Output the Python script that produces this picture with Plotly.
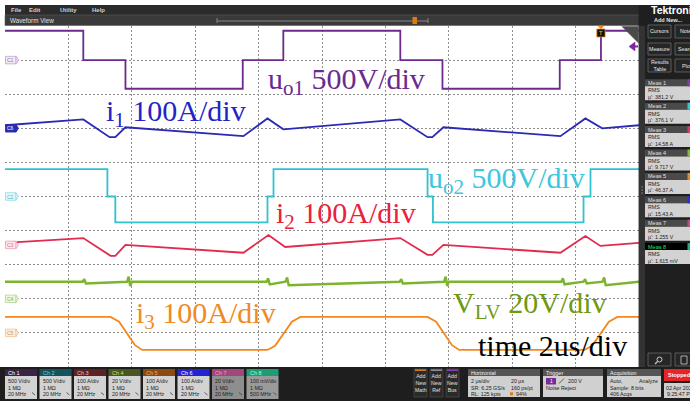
import plotly.graph_objects as go

# ---------------- data (time in microseconds, values in physical units) ----------------
time_ch1 = [0, 2.47, 2.47, 3.80, 3.80, 7.50, 7.50, 8.78, 8.78, 12.47, 12.47, 13.80, 13.80, 17.50, 17.50, 18.80, 18.80, 20]
uo1_V = [430, 430, 0, 0, -420, -420, 0, 0, 430, 430, 0, 0, -420, -420, 0, 0, 430, 430]

time_ch2 = [0, 3.23, 3.23, 3.48, 3.48, 8.28, 8.28, 8.47, 8.47, 13.33, 13.33, 13.50, 13.50, 18.25, 18.25, 18.47, 18.47, 20]
uo2_V = [400, 400, 0, 0, -380, -380, 0, 0, 400, 400, 0, 0, -380, -380, 0, 0, 400, 400]

time_ch6 = [0, 2.47, 3.30, 3.48, 3.80, 7.52, 8.28, 8.78, 12.47, 13.33, 13.48, 13.83, 17.52, 18.31, 18.84, 20]
i1_A = [9, 26, -26, -26, 3, -23, 29, -3, 26, -26, -26, 3, -23, 29, 0, 9]

time_ch3 = [0, 2.47, 3.33, 3.48, 3.80, 7.52, 8.31, 8.84, 12.47, 13.33, 13.48, 13.83, 17.52, 18.31, 18.78, 20]
i2_A = [6, 20, -32, -32, 0, -23, 29, -6, 20, -29, -29, 0, -23, 26, -3, 6]

time_ch4 = [0, 2.45, 2.5, 2.55, 3.85, 3.9, 3.95, 4.0, 8.25, 8.3, 8.35, 8.85, 8.9, 8.95, 12.45, 12.5, 12.55,
            13.85, 13.9, 13.95, 14.0, 17.55, 17.6, 17.65, 18.25, 18.3, 18.35, 18.85, 18.9, 18.95, 20]
vlv_V = [10, 10, 11.5, 9, 10, 13, 7.5, 10, 10, 12, 8.5, 10, 12.5, 8, 10, 11.5, 9,
         10, 13, 7.5, 10, 10, 12, 8.5, 10, 11.5, 9, 10, 12.5, 8, 10]

time_ch5 = [0, 3.33, 3.60, 4.10, 4.33, 8.28, 8.52, 9.05, 9.32, 13.33, 13.60, 14.10, 14.33, 18.28, 18.52, 19.05, 19.32, 20]
i3_A = [47, 47, 33, -36, -50, -50, -38, 33, 47, 47, 33, -36, -50, -50, -38, 33, 47, 47]

# channel settings: scale per division, offset in divisions
ch_scale = {"C1": 500, "C2": 500, "C3": 100, "C4": 20, "C5": 100, "C6": 100}
ch_offset = {"C1": 4.0, "C2": 0.0, "C3": -1.42, "C4": -3.0, "C5": -4.0, "C6": 2.0}
ch_color = {"C1": "#6c2a8e", "C2": "#2fc2cf", "C3": "#e12a4c", "C4": "#7ab52c", "C5": "#f5861c", "C6": "#2a2ab4"}
trigger_level_V = 200
trigger_time_us = 18.80

badge_names = ["Ch 1", "Ch 2", "Ch 3", "Ch 4", "Ch 5", "Ch 6", "Ch 7", "Ch 8"]
badge_scale = ["500 V/div", "500 V/div", "100 A/div", "20 V/div", "100 A/div", "100 A/div", "20 V/div", "100 mV/div"]
badge_bw = ["20 MHz", "20 MHz", "20 MHz", "20 MHz", "20 MHz", "20 MHz", "20 MHz", "500 MHz"]
meas_values = ["381.2 V", "376.1 V", "14.58 A", "9.717 V", "46.37 A", "15.43 A", "1.255 V", "1.615 mV"]

# ---------------- figure ----------------
def to_div(ch, vals):
    return [ch_offset[ch] + v / ch_scale[ch] for v in vals]

fig = go.Figure()
series = [("C1", time_ch1, uo1_V, 1.8), ("C6", time_ch6, i1_A, 1.8), ("C2", time_ch2, uo2_V, 1.8),
          ("C3", time_ch3, i2_A, 1.8), ("C4", time_ch4, vlv_V, 2.4), ("C5", time_ch5, i3_A, 1.8)]
for ch, t, v, w in series:
    fig.add_trace(go.Scatter(x=t, y=to_div(ch, v), mode="lines", line=dict(color=ch_color[ch], width=w),
                             hoverinfo="skip", showlegend=False))

L, T, W, H = 5, 26, 634, 341
def X(p): return (p - L) / W
def Y(p): return 1 - (p - T) / H

shapes, annos = [], []
UI = "Liberation Sans"
SERIF = "Liberation Serif"

def rect(x0, y0, x1, y1, fill, line=None, lw=0):
    shapes.append(dict(type="rect", xref="paper", yref="paper", x0=X(x0), x1=X(x1), y0=Y(y1), y1=Y(y0),
                       fillcolor=fill, line=dict(color=line or fill, width=lw), layer="above"))

def txt(x, y, s, size=6, color="#ffffff", xa="left", ya="middle", family=UI):
    annos.append(dict(xref="paper", yref="paper", x=X(x), y=Y(y), text=s, showarrow=False, xanchor=xa,
                      yanchor=ya, borderpad=0, font=dict(size=size, color=color, family=family)))

# top menu and waveform view bars
rect(5, 5, 690, 15, "#2b2b2b")
for lbl, xx in [("File", 10), ("Edit", 28), ("Utility", 59), ("Help", 91)]:
    txt(xx, 10, "<b>" + lbl + "</b>", 6, "#d0d0d0")
rect(5, 15, 640, 25.5, "#3a3a3a", "#5a5a5a", 0.6)
txt(9, 20.5, "Waveform View", 6.3, "#e0e0e0")
shapes.append(dict(type="line", xref="paper", yref="paper", x0=X(217), x1=X(428), y0=Y(21), y1=Y(21),
                   line=dict(color="#9a9a9a", width=0.8), layer="above"))
shapes.append(dict(type="line", xref="paper", yref="paper", x0=X(217), x1=X(217), y0=Y(18), y1=Y(23),
                   line=dict(color="#9a9a9a", width=0.8), layer="above"))
shapes.append(dict(type="line", xref="paper", yref="paper", x0=X(428), x1=X(428), y0=Y(18), y1=Y(23),
                   line=dict(color="#9a9a9a", width=0.8), layer="above"))
rect(412.5, 17, 417, 24, "#e07a10")

# right panel
rect(638.6, 5, 690, 367, "#1f1f1f")
rect(639, 26, 645, 367, "#333333")
for yy in [187, 190, 193]:
    rect(641.5, yy - 0.6, 642.7, yy + 0.6, "#aaaaaa")
txt(650, 10, "<b>Tektronix</b>", 10.5, "#ffffff", xa="left")
txt(668, 19.5, "<b>Add New...</b>", 5.5, "#e0e0e0", xa="center")
for (x0, x1, y0, y1, s) in [(648, 671, 25, 38, "Cursors"), (675, 698, 25, 38, "Notes"),
                            (648, 671, 43, 55, "Measure"), (675, 698, 43, 55, "Search"),
                            (648, 671, 59, 72, "Results<br>Table"), (675, 698, 59, 72, "Plot")]:
    rect(x0, y0, x1, y1, "#262626", "#6a6a6a", 0.8)
    txt((x0 + x1) / 2, (y0 + y1) / 2, s, 5.3, "#e8e8e8", xa="center")

meas_strip = ["#8a3aa8", "#30c8d8", "#e03a60", "#80c030", "#f08a20", "#3030d0", "#c04a90", "#20b080"]
for i, val in enumerate(meas_values):
    top = 79.3 + 23.4 * i
    hdr = "#000000" if i == 7 else "#4a4a4a"
    rect(645, top, 690, top + 7, hdr)
    rect(645, top + 7, 690, top + 21, "#d2d2d2")
    rect(687.5, top, 690, top + 7, meas_strip[i])
    txt(647, top + 3.6, "Meas " + str(i + 1), 5.5, "#20e070" if i == 7 else "#e0e0e0")
    txt(647, top + 11, "RMS", 5.3, "#222222")
    txt(647, top + 17.5, "µ': " + val, 5.3, "#222222")
# magnifier and trash buttons (simple drawn icons)
rect(648, 353, 671, 366, "#262626", "#6a6a6a", 0.8)
shapes.append(dict(type="circle", xref="paper", yref="paper", x0=X(657), x1=X(662), y0=Y(362), y1=Y(357),
                   line=dict(color="#cccccc", width=1), layer="above"))
shapes.append(dict(type="line", xref="paper", yref="paper", x0=X(657.5), x1=X(655), y0=Y(361.5), y1=Y(364),
                   line=dict(color="#cccccc", width=1.2), layer="above"))
rect(675, 353, 698, 366, "#262626", "#6a6a6a", 0.8)
rect(681, 356, 687, 364, "#262626", "#cccccc", 0.8)

# bottom bar
rect(0, 367, 690, 401, "#1e1e1e")
hdr_cols = ["#3b2346", "#14555b", "#5c2327", "#4a5621", "#8b4a12", "#2424d0", "#a2467f", "#1f9c74"]
hdr_txt = ["#ffffff", "#5fd8e6", "#f0c0c0", "#c8e070", "#f5b060", "#ffffff", "#f0a0d0", "#a0ffd8"]
body_cols = ["#d3d3d3"] * 6 + ["#8e8e8e", "#9a9a9a"]
for i, name in enumerate(badge_names):
    x0 = 5 + 34.5 * i
    rect(x0, 369, x0 + 32, 376, hdr_cols[i])
    rect(x0, 376, x0 + 32, 399, body_cols[i])
    txt(x0 + 2, 372.6, name, 5.5, hdr_txt[i])
    txt(x0 + 2, 381, badge_scale[i], 5.3, "#202020")
    txt(x0 + 2, 387.5, "1 MΩ", 5.3, "#202020")
    txt(x0 + 2, 394, badge_bw[i], 5.3, "#202020")
    shapes.append(dict(type="line", xref="paper", yref="paper", x0=X(x0 + 27), x1=X(x0 + 30), y0=Y(392.5), y1=Y(395),
                       line=dict(color="#404040", width=0.8), layer="above"))

for x0, s, c in [(414, "Math", "#f0902a"), (430, "Ref", "#a8a8a8"), (446, "Bus", "#a040d0")]:
    rect(x0, 369, x0 + 13, 397, "#2a2a2a", "#555555", 0.6)
    rect(x0 + 1, 369.5, x0 + 12, 370.8, c)
    txt(x0 + 6.5, 383, "Add<br>New<br>" + s, 5.2, "#e0e0e0", xa="center")

def panel(x0, x1, title):
    rect(x0, 369, x1, 376, "#555555")
    rect(x0, 376, x1, 397, "#d0d0d0")
    txt(x0 + 2, 372.6, title, 5.5, "#f0f0f0")

panel(468, 540, "Horizontal")
txt(470, 381, "2 µs/div", 5.3, "#202020"); txt(510, 381, "20 µs", 5.3, "#202020")
txt(470, 387.5, "SR: 6.25 GS/s", 5.3, "#202020"); txt(510, 387.5, "160 ps/pt", 5.3, "#202020")
txt(470, 394, "RL: 125 kpts", 5.3, "#202020")
rect(510, 392.3, 513, 395.3, "#e07a10")
txt(514.5, 394, "94%", 5.3, "#202020")
panel(543, 603, "Trigger")
rect(546, 378, 556, 384.5, "#7a2a9a")
txt(551, 381.3, "1", 5, "#ffffff", xa="center")
shapes.append(dict(type="line", xref="paper", yref="paper", x0=X(559), x1=X(564), y0=Y(383.5), y1=Y(378.5),
                   line=dict(color="#404040", width=0.8), layer="above"))
txt(567, 381, "200 V", 5.3, "#202020")
txt(545, 387.5, "Noise Reject", 5.3, "#202020")
panel(607, 661, "Acquisition")
txt(609, 381, "Auto,", 5.3, "#202020"); txt(659, 381, "Analyze", 5.3, "#202020", xa="right")
txt(609, 387.5, "Sample: 8 bits", 5.3, "#202020")
txt(609, 394, "406 Acqs", 5.3, "#202020")
rect(664, 369, 692, 381, "#e82525")
txt(667, 375, "<b>Stopped</b>", 5.5, "#ffffff")
rect(664, 383, 692, 398, "#d0d0d0")
txt(665, 387.5, "02 Apr 2020", 5.3, "#202020")
txt(666, 394, "9:25:47 PM", 5.3, "#202020")

# in-plot decorations: channel markers
mk_fill = {"C1": "#f4e9f6", "C2": "#e4f9fb", "C3": "#fde7eb", "C4": "#eef7e2", "C5": "#fdefe1", "C6": "#2a2ab4"}
mk_line = {"C1": "#c6a2d0", "C2": "#8adbe3", "C3": "#f0a0b2", "C4": "#b5d68c", "C5": "#f3c08c", "C6": "#2a2ab4"}
mk_txt = {"C1": "#9a70a8", "C2": "#50b8c4", "C3": "#d87088", "C4": "#88aa60", "C5": "#d09050", "C6": "#ffffff"}
for ch in ["C1", "C2", "C3", "C4", "C5", "C6"]:
    off = ch_offset[ch]
    shapes.append(dict(type="rect", xref="paper", yref="y", x0=X(5.5), x1=X(16), y0=off - 0.11, y1=off + 0.11,
                       fillcolor=mk_fill[ch], line=dict(color=mk_line[ch], width=0.8), layer="above"))
    shapes.append(dict(type="path", xref="paper", yref="y",
                       path=f"M {X(16)} {off + 0.11} L {X(18.5)} {off} L {X(16)} {off - 0.11} Z",
                       fillcolor=mk_fill[ch], line=dict(color=mk_line[ch], width=0.8), layer="above"))
    annos.append(dict(xref="paper", yref="y", x=X(10.5), y=off, text=ch, showarrow=False, xanchor="center",
                      yanchor="middle", borderpad=0, font=dict(size=5, color=mk_txt[ch], family=UI)))

# trigger level arrow (ch1) and trigger position marker
lvl = ch_offset["C1"] + trigger_level_V / ch_scale["C1"]
shapes.append(dict(type="path", xref="paper", yref="y",
                   path=f"M {X(629)} {lvl} L {X(635)} {lvl + 0.13} L {X(635)} {lvl - 0.13} Z",
                   fillcolor="#7a2aa0", line=dict(color="#7a2aa0", width=0.5), layer="above"))
shapes.append(dict(type="line", xref="paper", yref="y", x0=X(634), x1=X(638), y0=lvl, y1=lvl,
                   line=dict(color="#7a2aa0", width=2), layer="above"))
shapes.append(dict(type="path", xref="x", yref="paper",
                   path=f"M {trigger_time_us - 0.09} {Y(26)} L {trigger_time_us + 0.09} {Y(26)} L {trigger_time_us} {Y(29)} Z",
                   fillcolor="#f08a20", line=dict(color="#f08a20", width=0.5), layer="above"))
shapes.append(dict(type="rect", xref="x", yref="paper", x0=trigger_time_us - 0.13, x1=trigger_time_us + 0.13,
                   y0=Y(37), y1=Y(29), fillcolor="#111111", line=dict(color="#f08a20", width=0.8), layer="above"))
annos.append(dict(xref="x", yref="paper", x=trigger_time_us, y=Y(33), text="<b>T</b>", showarrow=False,
                  xanchor="center", yanchor="middle", borderpad=0, font=dict(size=5.5, color="#f08a20", family=UI)))
shapes.append(dict(type="path", xref="paper", yref="paper",
                   path=f"M {X(622)} {Y(26.5)} L {X(638.5)} {Y(26.5)} L {X(638.5)} {Y(43)} Z",
                   fillcolor="#4a4a4a", line=dict(color="#4a4a4a", width=0.5), layer="above"))

# big serif labels (top edge of text box = baseline - ascent)
def big(x, baseline, s, color):
    annos.append(dict(xref="paper", yref="paper", x=X(x - 1), y=Y(baseline - 27.7), text=s, showarrow=False,
                      xanchor="left", yanchor="top", borderpad=1,
                      font=dict(size=30, color=color, family=SERIF)))

big(267, 88, "u<sub>o1</sub> 500V/div", "#6a2a90")
big(105, 120, "i<sub>1</sub> 100A/div", "#2424c6")
big(427, 187, "u<sub>o2</sub> 500V/div", "#3ec6dc")
big(275, 222, "i<sub>2</sub> 100A/div", "#e8223c")
big(135, 322, "i<sub>3</sub> 100A/div", "#f08a24")
big(452, 312, "V<sub>LV</sub> 20V/div", "#6e9a12")
big(477, 355, "time 2us/div", "#000000")

fig.update_layout(
    width=690, height=401, autosize=False,
    margin=dict(l=L, r=690 - L - W, t=T, b=401 - T - H, pad=0),
    paper_bgcolor="#ffffff", plot_bgcolor="#ffffff",
    shapes=shapes, annotations=annos, showlegend=False,
    xaxis=dict(range=[0, 20], dtick=2, tick0=0, showgrid=True, gridcolor="#8e8e8e", griddash="2px,2px",
               gridwidth=1, zeroline=False, showticklabels=False, ticks="", showline=False, fixedrange=True),
    yaxis=dict(range=[-5, 5], dtick=1, tick0=0, showgrid=True, gridcolor="#8e8e8e", griddash="2px,2px",
               gridwidth=1, zeroline=False, showticklabels=False, ticks="", showline=False, fixedrange=True),
)
fig.write_html("out.html", config={"staticPlot": True},
               post_script="document.body.style.margin='0';document.body.style.overflow='hidden';")
